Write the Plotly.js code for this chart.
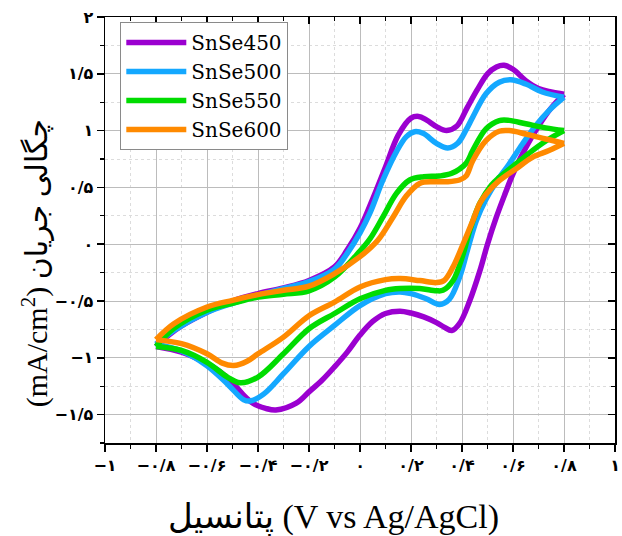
<!DOCTYPE html>
<html><head><meta charset="utf-8">
<script src="https://cdn.plot.ly/plotly-3.0.1.min.js"></script>
<style>html,body{margin:0;padding:0;background:#fff}#chart{width:622px;height:536px}</style>
</head><body><div id="chart"></div>
<script>
// ---- data ----
const seriesNames = ['SnSe450', 'SnSe500', 'SnSe550', 'SnSe600'];

// SnSe450: forward (anodic) and reverse (cathodic) scans
const s450FwdX = [-0.8, -0.75, -0.7, -0.6, -0.5, -0.4, -0.3, -0.2, -0.1, -0.05, 0, 0.05, 0.1, 0.15, 0.2, 0.23, 0.26, 0.3, 0.34, 0.38, 0.42, 0.46, 0.5, 0.535, 0.565, 0.6, 0.65, 0.7, 0.75, 0.8];
const s450FwdY = [-0.9, -0.8, -0.72, -0.6, -0.5, -0.435, -0.385, -0.32, -0.2, -0.05, 0.14, 0.4, 0.68, 0.96, 1.11, 1.125, 1.094, 1.035, 1.0, 1.04, 1.2, 1.36, 1.5, 1.56, 1.575, 1.54, 1.44, 1.37, 1.34, 1.32];
const s450RevX = [0.8, 0.75, 0.7, 0.65, 0.6, 0.57, 0.535, 0.5, 0.47, 0.43, 0.39, 0.36, 0.33, 0.3, 0.25, 0.2, 0.157, 0.1, 0.05, 0.0, -0.05, -0.1, -0.15, -0.2, -0.25, -0.33, -0.37, -0.42, -0.46, -0.5, -0.55, -0.6, -0.7, -0.8];
const s450RevY = [1.32, 1.2, 1.04, 0.85, 0.62, 0.45, 0.24, 0.0, -0.235, -0.5, -0.70, -0.76, -0.73, -0.69, -0.64, -0.606, -0.59, -0.61, -0.68, -0.8, -0.95, -1.08, -1.2, -1.3, -1.4, -1.46, -1.445, -1.4, -1.32, -1.22, -1.12, -1.05, -0.95, -0.9];

// SnSe500
const s500FwdX = [-0.8, -0.73, -0.6, -0.5, -0.4, -0.3, -0.2, -0.1, -0.05, 0, 0.04, 0.09, 0.143, 0.182, 0.214, 0.247, 0.3, 0.344, 0.383, 0.416, 0.442, 0.494, 0.546, 0.591, 0.65, 0.715, 0.8];
const s500FwdY = [-0.88, -0.76, -0.6, -0.52, -0.45, -0.39, -0.33, -0.22, -0.08, 0.1, 0.28, 0.565, 0.815, 0.947, 0.99, 0.976, 0.888, 0.846, 0.888, 1.006, 1.118, 1.324, 1.426, 1.447, 1.41, 1.34, 1.294];
const s500RevX = [0.8, 0.741, 0.689, 0.637, 0.585, 0.535, 0.495, 0.456, 0.424, 0.39, 0.35, 0.312, 0.26, 0.2, 0.157, 0.1, 0, -0.1, -0.2, -0.3, -0.378, -0.43, -0.456, -0.52, -0.6, -0.7, -0.8];
const s500RevY = [1.294, 1.176, 1.044, 0.882, 0.706, 0.55, 0.4, 0.206, -0.03, -0.294, -0.485, -0.53, -0.48, -0.435, -0.42, -0.435, -0.54, -0.715, -0.9, -1.14, -1.32, -1.38, -1.37, -1.23, -1.07, -0.94, -0.88];

// SnSe550
const s550FwdX = [-0.8, -0.73, -0.6, -0.5, -0.4, -0.3, -0.2, -0.1, 0, 0.04, 0.09, 0.143, 0.195, 0.25, 0.31, 0.36, 0.416, 0.442, 0.494, 0.546, 0.585, 0.65, 0.728, 0.8];
const s550FwdY = [-0.9, -0.74, -0.58, -0.52, -0.465, -0.44, -0.41, -0.29, -0.06, 0.05, 0.24, 0.447, 0.565, 0.594, 0.6, 0.624, 0.712, 0.824, 1.015, 1.088, 1.09, 1.06, 1.024, 1.0];
const s550RevX = [0.8, 0.741, 0.676, 0.611, 0.546, 0.515, 0.47, 0.43, 0.404, 0.365, 0.325, 0.3, 0.234, 0.157, 0.1, 0, -0.1, -0.2, -0.3, -0.4, -0.47, -0.52, -0.6, -0.7, -0.8];
const s550RevY = [1.0, 0.926, 0.824, 0.706, 0.588, 0.52, 0.36, 0.118, -0.09, -0.32, -0.406, -0.41, -0.39, -0.39, -0.406, -0.48, -0.61, -0.744, -0.965, -1.17, -1.22, -1.17, -1.04, -0.935, -0.9];

// SnSe600
const s600FwdX = [-0.8, -0.73, -0.6, -0.5, -0.4, -0.3, -0.2, -0.1, 0, 0.07, 0.13, 0.18, 0.234, 0.29, 0.34, 0.39, 0.416, 0.442, 0.494, 0.546, 0.585, 0.65, 0.728, 0.8];
const s600FwdY = [-0.84, -0.70, -0.553, -0.494, -0.444, -0.406, -0.37, -0.26, -0.11, 0.035, 0.24, 0.42, 0.535, 0.55, 0.55, 0.565, 0.6, 0.735, 0.912, 0.994, 1.0, 0.97, 0.926, 0.888];
const s600RevX = [0.8, 0.741, 0.676, 0.611, 0.546, 0.494, 0.47, 0.443, 0.404, 0.365, 0.33, 0.3, 0.234, 0.157, 0.1, 0, -0.1, -0.2, -0.3, -0.4, -0.443, -0.495, -0.54, -0.6, -0.7, -0.8];
const s600RevY = [0.888, 0.824, 0.765, 0.662, 0.559, 0.44, 0.36, 0.21, 0.0, -0.2, -0.32, -0.338, -0.32, -0.303, -0.312, -0.376, -0.51, -0.63, -0.818, -0.965, -1.03, -1.068, -1.047, -0.965, -0.876, -0.84];

// axis ticks (Persian digits)
const xTickVals = [-1, -0.8, -0.6, -0.4, -0.2, 0, 0.2, 0.4, 0.6, 0.8, 1];
const xTickText = ['\u2212\u06F1', '\u2212\u06F0/\u06F8', '\u2212\u06F0/\u06F6', '\u2212\u06F0/\u06F4', '\u2212\u06F0/\u06F2', '\u06F0', '\u06F0/\u06F2', '\u06F0/\u06F4', '\u06F0/\u06F6', '\u06F0/\u06F8', '\u06F1'];
const yTickVals = [-1.5, -1, -0.5, 0, 0.5, 1, 1.5, 2];
const yTickText = ['\u2212\u06F1/\u06F5', '\u2212\u06F1', '\u2212\u06F0/\u06F5', '\u06F0', '\u06F0/\u06F5', '\u06F1', '\u06F1/\u06F5', '\u06F2'];

const xTitle = 'پتانسیل (V vs Ag/AgCl)';
const yTitle = '(mA/cm<sup>2</sup>) چگالی جریان';

// ---- build ----
const colors = ['#9b00d0', '#14a8ff', '#00dc00', '#ff8a00'];
const fwdX = [s450FwdX, s500FwdX, s550FwdX, s600FwdX];
const fwdY = [s450FwdY, s500FwdY, s550FwdY, s600FwdY];
const revX = [s450RevX, s500RevX, s550RevX, s600RevX];
const revY = [s450RevY, s500RevY, s550RevY, s600RevY];

const traces = [];
seriesNames.forEach((name, i) => {
  const line = {color: colors[i], width: 5.5, shape: 'spline', smoothing: 1};
  traces.push({x: fwdX[i], y: fwdY[i], type: 'scatter', mode: 'lines', name: name,
               line: line, hoverinfo: 'skip'});
  traces.push({x: revX[i], y: revY[i], type: 'scatter', mode: 'lines', name: name,
               showlegend: false, line: line, hoverinfo: 'skip'});
});
// carrier for the inward mirror ticks on top/right
traces.push({x: [], y: [], xaxis: 'x2', yaxis: 'y2', type: 'scatter', mode: 'lines', showlegend: false, hoverinfo: 'skip'});

const serif = 'Liberation Serif, DejaVu Sans, serif';
const tickFont = {family: 'DejaVu Sans, sans-serif', size: 16, color: '#000', weight: 'bold'};

const layout = {
  width: 622, height: 536,
  margin: {l: 105, r: 7, t: 17, b: 93},
  paper_bgcolor: '#fff', plot_bgcolor: '#fff',
  showlegend: true,
  xaxis: {
    range: [-1, 1], tickmode: 'array', tickvals: xTickVals, ticktext: xTickText,
    ticks: 'outside', ticklen: 7, tickwidth: 1.5, tickcolor: '#000',
    showline: true, linecolor: '#000', linewidth: 1.5, mirror: true,
    showgrid: true, gridcolor: '#bcbcbc', gridwidth: 1, zeroline: false,
    minor: {tickmode: 'linear', tick0: -1, dtick: 0.1, ticks: 'outside', ticklen: 4, tickwidth: 1.2, tickcolor: '#000',
            showgrid: true, gridcolor: '#dcdcdc', gridwidth: 1, griddash: 'dot'},
    tickfont: tickFont
  },
  yaxis: {
    range: [-1.75, 2], tickmode: 'array', tickvals: yTickVals, ticktext: yTickText,
    ticks: 'outside', ticklen: 7, tickwidth: 1.5, tickcolor: '#000',
    showline: true, linecolor: '#000', linewidth: 1.5, mirror: true,
    showgrid: true, gridcolor: '#bcbcbc', gridwidth: 1, zeroline: false,
    minor: {tickmode: 'linear', tick0: -1.75, dtick: 0.25, ticks: 'outside', ticklen: 4, tickwidth: 1.2, tickcolor: '#000',
            showgrid: true, gridcolor: '#dcdcdc', gridwidth: 1, griddash: 'dot'},
    tickfont: tickFont
  },
  xaxis2: {
    overlaying: 'x', side: 'top', range: [-1, 1], tickmode: 'array', tickvals: xTickVals,
    ticks: 'inside', ticklen: 7, tickwidth: 1.5, tickcolor: '#000', showticklabels: false,
    showgrid: false, zeroline: false, showline: false,
    minor: {tickmode: 'linear', tick0: -1, dtick: 0.1, ticks: 'inside', ticklen: 4, tickwidth: 1.2, tickcolor: '#000', showgrid: false}
  },
  yaxis2: {
    overlaying: 'y', side: 'right', range: [-1.75, 2], tickmode: 'array', tickvals: yTickVals,
    ticks: 'inside', ticklen: 7, tickwidth: 1.5, tickcolor: '#000', showticklabels: false,
    showgrid: false, zeroline: false, showline: false,
    minor: {tickmode: 'linear', tick0: -1.75, dtick: 0.25, ticks: 'inside', ticklen: 4, tickwidth: 1.2, tickcolor: '#000', showgrid: false}
  },
  legend: {
    x: 0.03, y: 0.988, xanchor: 'left', yanchor: 'top',
    bgcolor: '#fff', bordercolor: '#8a8a8a', borderwidth: 1,
    font: {family: 'DejaVu Serif, Liberation Serif, serif', size: 20, color: '#000'},
    itemwidth: 60, tracegroupgap: 0
  },
  annotations: [
    {text: xTitle, xref: 'paper', yref: 'paper', x: 0.449, y: -0.175, xanchor: 'center', yanchor: 'middle',
     showarrow: false, font: {family: serif, size: 34, color: '#000'}},
    {text: yTitle, xref: 'paper', yref: 'paper', x: -0.137, y: 0.422, xanchor: 'center', yanchor: 'middle',
     textangle: -90, showarrow: false, font: {family: serif, size: 30, color: '#000'}}
  ]
};

Plotly.newPlot('chart', traces, layout, {displayModeBar: false, staticPlot: true});
</script>
</body></html>
